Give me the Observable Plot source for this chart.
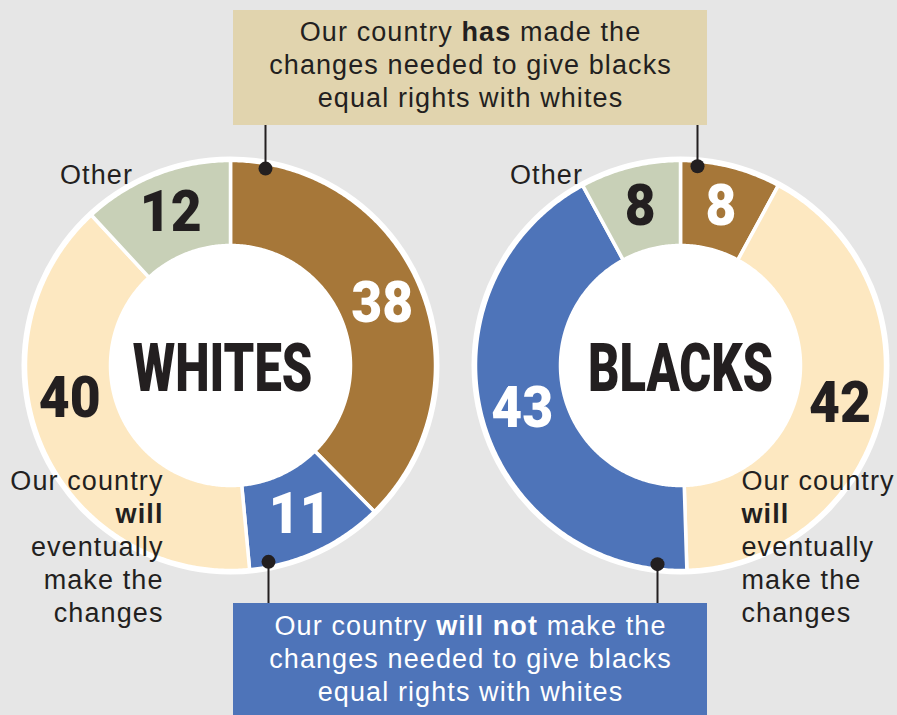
<!DOCTYPE html>
<html><head><meta charset="utf-8">
<script src="https://cdn.jsdelivr.net/npm/d3@7"></script>
<script src="https://cdn.jsdelivr.net/npm/@observablehq/plot@0.6"></script>
<style>
html,body{margin:0;padding:0;background:#e6e6e6;}
#chart svg{display:block;}
</style></head><body><div id="chart"></div>
<script>
// ---------- data ----------
const groups = ["WHITES", "BLACKS"];
const whitesCategories = ["has", "will not", "will eventually", "other"];
const whitesValues = [38, 11, 40, 12];
const blacksCategories = ["has", "will eventually", "will not", "other"];
const blacksValues = [8, 42, 43, 8];
const colorDomain = ["has", "will not", "will eventually", "other"];
const colorRange = ["#a67739", "#4e74b9", "#fde8c1", "#c8d0b7"];
const lightLabelCategories = ["has", "will not"];
const hasText = "Our country **has** made the\nchanges needed to give blacks\nequal rights with whites";
const willNotText = "Our country **will not** make the\nchanges needed to give blacks\nequal rights with whites";
const eventuallyText = "Our country\n**will**\neventually\nmake the\nchanges";
const otherText = "Other";

// ---------- layout ----------
const W = 897, H = 715;
const centers = [230, 680], CY = 365;
const R_OUT = 205, R_IN = 120, R_RING = 209, R_LABEL = 164, R_DOT = 200;
const BOX_X1 = 233, BOX_X2 = 707;
const TOP_BOX = [10, 125], BOT_BOX = [603, 715];
const DARK = "#231f20";
const SANS = "'Liberation Sans', Arial, Helvetica, sans-serif";
const HEAVY = "Roboto, 'DejaVu Sans', sans-serif";
const FS = 27, LH = 1.22, LS = "1.1px";

const series = [
  {group: groups[0], cats: whitesCategories, vals: whitesValues},
  {group: groups[1], cats: blacksCategories, vals: blacksValues}
];
const slicePts = [], labels = [];
series.forEach((s, gi) => {
  const total = d3.sum(s.vals);
  const cx = centers[gi];
  let acc = 0;
  s.vals.forEach((v, i) => {
    const a0 = acc / total * 2 * Math.PI; acc += v;
    const a1 = acc / total * 2 * Math.PI;
    const key = s.group + i;
    const n = Math.max(2, Math.ceil((a1 - a0) / 0.01));
    for (let k = 0; k <= n; k++) {
      const a = a0 + (a1 - a0) * k / n;
      slicePts.push({key, category: s.cats[i], x: cx + R_OUT * Math.sin(a), y: CY - R_OUT * Math.cos(a)});
    }
    for (let k = n; k >= 0; k--) {
      const a = a0 + (a1 - a0) * k / n;
      slicePts.push({key, category: s.cats[i], x: cx + R_IN * Math.sin(a), y: CY - R_IN * Math.cos(a)});
    }
    const am = (a0 + a1) / 2;
    labels.push({group: s.group, category: s.cats[i], value: v,
      x: cx + R_LABEL * Math.sin(am), y: CY - R_LABEL * Math.cos(am)});
  });
});
const centersData = groups.map((g, i) => ({group: g, x: centers[i], y: CY}));

// leader lines: x positions in layout, y derived from donut geometry
const leaders = [
  {gi: 0, x: 265, side: "top"},
  {gi: 1, x: 697, side: "top"},
  {gi: 0, x: 268, side: "bottom"},
  {gi: 1, x: 657, side: "bottom"}
].map(d => {
  const dx = d.x - centers[d.gi];
  const h = Math.sqrt(R_DOT * R_DOT - dx * dx);
  const yDot = d.side === "top" ? CY - h : CY + h;
  const yBox = d.side === "top" ? TOP_BOX[1] : BOT_BOX[0];
  return {x: d.x, yDot, yBox};
});

const isBigLight = d => d.group === "WHITES" && d.category === "will eventually";
const txt = {fontSize: FS, lineHeight: LH, fontFamily: SANS, lineAnchor: "top"};
const num = {lineAnchor: "middle", fontSize: 58, fontWeight: 900, fontFamily: HEAVY, className: "sq-num"};

const chart = Plot.plot({
  width: W, height: H,
  margin: 0,
  style: {background: "#e6e6e6", overflow: "visible"},
  x: {domain: [0, W], range: [0, W], axis: null},
  y: {domain: [0, H], range: [0, H], axis: null},
  color: {domain: colorDomain, range: colorRange},
  marks: [
    Plot.dot(centersData, {x: "x", y: "y", r: R_RING, fill: "white", stroke: null}),
    Plot.line(slicePts, {x: "x", y: "y", z: "key", fill: "category", stroke: "white",
      strokeWidth: 3.5, curve: "linear-closed"}),
    Plot.dot(centersData, {x: "x", y: "y", r: R_IN + 1, fill: "white", stroke: null}),
    // callout boxes
    Plot.rect([{y1: TOP_BOX[0], y2: TOP_BOX[1]}], {x1: BOX_X1, x2: BOX_X2, y1: "y1", y2: "y2", fill: "#e1d4ae"}),
    Plot.rect([{y1: BOT_BOX[0], y2: BOT_BOX[1]}], {x1: BOX_X1, x2: BOX_X2, y1: "y1", y2: "y2", fill: "#4e74b9"}),
    Plot.ruleX(leaders, {x: "x", y1: "yDot", y2: "yBox", stroke: DARK, strokeWidth: 2}),
    Plot.dot(leaders, {x: "x", y: "yDot", r: 7, fill: DARK, stroke: null}),
    // box texts
    Plot.text([hasText], {...txt, x: (BOX_X1 + BOX_X2) / 2, y: 17.5, text: d => d, fill: DARK, className: "ls"}),
    Plot.text([willNotText], {...txt, x: (BOX_X1 + BOX_X2) / 2, y: 611.5, text: d => d, fill: "white", className: "ls"}),
    // side texts
    Plot.text([eventuallyText], {...txt, x: 163, y: 466, text: d => d, textAnchor: "end", fill: DARK, className: "ls"}),
    Plot.text([eventuallyText], {...txt, x: 741, y: 466, text: d => d, textAnchor: "start", fill: DARK, className: "ls"}),
    Plot.text(centersData, {...txt, x: d => d.x - 134, y: 160, text: () => otherText, fill: DARK, className: "ls"}),
    // group names
    Plot.text(centersData.filter(d => d.group === "WHITES"), {x: "x", y: 369, dx: -8, text: "group", lineAnchor: "middle",
      fontSize: 66, fontWeight: 900, fill: DARK, fontFamily: HEAVY, className: "sq-group"}),
    Plot.text(centersData.filter(d => d.group !== "WHITES"), {x: "x", y: 369, text: "group", lineAnchor: "middle",
      fontSize: 66, fontWeight: 900, fill: DARK, fontFamily: HEAVY, className: "sq-group"}),
    // value labels
    Plot.text(labels.filter(d => lightLabelCategories.includes(d.category)), {...num, x: "x", y: "y", text: "value", fill: "white"}),
    Plot.text(labels.filter(d => !lightLabelCategories.includes(d.category) && !isBigLight(d)), {...num, x: "x", y: "y", text: "value", fill: DARK}),
    Plot.text(labels.filter(isBigLight), {...num, x: "x", y: "y", dx: -11, dy: -34, text: "value", fill: DARK})
  ]
});
document.getElementById("chart").appendChild(chart);

// letter spacing for body text
chart.querySelectorAll(".ls").forEach(g => g.setAttribute("letter-spacing", LS));
// bold markup
chart.querySelectorAll("text, tspan").forEach(el => {
  if (el.children.length === 0 && el.textContent.includes("**")) {
    const parts = el.textContent.split("**");
    el.textContent = "";
    parts.forEach((p, i) => {
      if (!p) return;
      const t = document.createElementNS("http://www.w3.org/2000/svg", "tspan");
      t.textContent = p;
      if (i % 2) t.setAttribute("font-weight", "bold");
      el.appendChild(t);
    });
  }
});
// condense heavy labels
function squeeze(sel, f) {
  chart.querySelectorAll(sel).forEach(t => {
    const L = t.getComputedTextLength();
    t.setAttribute("textLength", (L * f).toFixed(1));
    t.setAttribute("lengthAdjust", "spacingAndGlyphs");
  });
}
squeeze(".sq-group text", 0.74);
squeeze(".sq-num text", 0.92);
</script>
</body></html>
